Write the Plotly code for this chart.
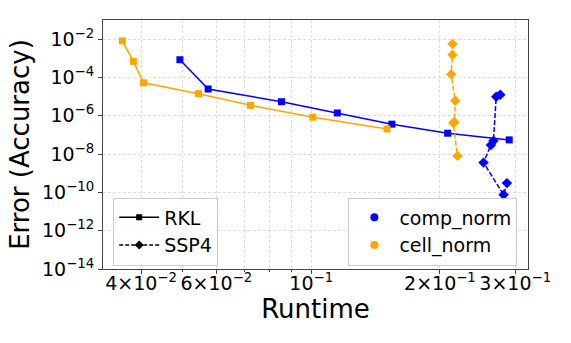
import plotly.graph_objects as go

# Runtime / error pairs
rkl_comp_runtime = [0.0493, 0.0574, 0.0852, 0.1151, 0.1544, 0.2085, 0.2904]
rkl_comp_error = [8.4e-4, 2.5e-5, 5.4e-6, 1.4e-6, 3.65e-7, 1.23e-7, 5.5e-8]

rkl_cell_runtime = [0.03616, 0.03838, 0.04054, 0.05449, 0.0721, 0.1009, 0.1504]
rkl_cell_error = [8.1e-3, 6.9e-4, 5.3e-5, 1.42e-5, 3.5e-6, 8.4e-7, 2.05e-7]

ssp4_comp_runtime = [0.2768, 0.2708, 0.2668, 0.2632, 0.2529, 0.2818, 0.2869]
ssp4_comp_error = [1.26e-5, 9.9e-6, 4.9e-8, 3.0e-8, 3.6e-9, 7.5e-11, 3.05e-10]

ssp4_cell_runtime = [0.2140, 0.2140, 0.2125, 0.2172, 0.2163, 0.2148, 0.2198]
ssp4_cell_error = [5.7e-3, 1.52e-3, 1.45e-4, 6.1e-6, 4.6e-7, 4.2e-7, 8.05e-9]

x_tick_vals = [0.04, 0.06, 0.1, 0.2, 0.3]
x_tick_text = ["4×10<sup>−2</sup>", "6×10<sup>−2</sup>", "10<sup>−1</sup>",
               "2×10<sup>−1</sup>", "3×10<sup>−1</sup>"]
x_minor_vals = [0.05, 0.07, 0.08, 0.09]
y_tick_vals = [1e-2, 1e-4, 1e-6, 1e-8, 1e-10, 1e-12, 1e-14]
y_tick_text = ["10<sup>−%d</sup>" % k for k in (2, 4, 6, 8, 10, 12, 14)]

BLUE = "#0000ff"
ORANGE = "#ffa500"
FONT = "DejaVu Sans"
GRID = "rgba(190,190,190,0.5)"

fig = go.Figure()


def add_series(x, y, color, symbol, dash, size):
    fig.add_trace(go.Scatter(
        x=x, y=y, mode="lines+markers",
        line=dict(color=color, width=1.5, dash=dash),
        marker=dict(symbol=symbol, size=size, color=color),
        showlegend=False,
    ))


add_series(rkl_comp_runtime, rkl_comp_error, BLUE, "square", "solid", 7)
add_series(rkl_cell_runtime, rkl_cell_error, ORANGE, "square", "solid", 7)
add_series(ssp4_comp_runtime, ssp4_comp_error, BLUE, "diamond", "5px,2px", 8)
add_series(ssp4_cell_runtime, ssp4_cell_error, ORANGE, "diamond", "5px,2px", 8)

# legend-only entries (method legend on the left, norm legend on the right)
fig.add_trace(go.Scatter(x=[None], y=[None], mode="lines+markers", name="RKL",
                         line=dict(color="black", width=1.5),
                         marker=dict(symbol="square", size=6, color="black"),
                         legend="legend"))
fig.add_trace(go.Scatter(x=[None], y=[None], mode="lines+markers", name="SSP4",
                         line=dict(color="black", width=1.5, dash="4px,2px"),
                         marker=dict(symbol="diamond", size=7, color="black"),
                         legend="legend"))
fig.add_trace(go.Scatter(x=[None], y=[None], mode="markers", name="comp_norm",
                         marker=dict(symbol="circle", size=8, color=BLUE),
                         legend="legend2"))
fig.add_trace(go.Scatter(x=[None], y=[None], mode="markers", name="cell_norm",
                         marker=dict(symbol="circle", size=8, color=ORANGE),
                         legend="legend2"))

legend_style = dict(
    bgcolor="rgba(255,255,255,0.8)", bordercolor="#cccccc", borderwidth=1,
    font=dict(family=FONT, size=19, color="black"), yanchor="bottom", y=0.014,
    itemwidth=40,
)

fig.update_layout(
    width=571, height=343,
    margin=dict(l=103, r=43, t=20, b=74),
    paper_bgcolor="white", plot_bgcolor="white",
    font=dict(family=FONT, color="black"),
    legend=dict(x=0.024, xanchor="left", **legend_style),
    legend2=dict(x=0.975, xanchor="right", **legend_style),
    xaxis=dict(
        type="log", range=[-1.487, -0.493], automargin=False,
        tickvals=x_tick_vals, ticktext=x_tick_text,
        tickfont=dict(size=19), ticks="outside", ticklen=4,
        ticklabelstandoff=-7,
        showgrid=True, gridcolor=GRID, griddash="3px,2px", gridwidth=1,
        minor=dict(tickvals=x_minor_vals, ticks="outside", ticklen=2,
                   showgrid=True, gridcolor=GRID, griddash="3px,2px"),
        showline=True, linecolor="#444444", linewidth=1, mirror=True,
        title=dict(text="Runtime", font=dict(size=26), standoff=0),
        zeroline=False,
    ),
    yaxis=dict(
        type="log", range=[-14, -1], automargin=False,
        tickvals=y_tick_vals, ticktext=y_tick_text,
        tickfont=dict(size=19), ticks="outside", ticklen=4,
        showgrid=True, gridcolor=GRID, griddash="3px,2px", gridwidth=1,
        showline=True, linecolor="#444444", linewidth=1, mirror=True,
        title=dict(text="Error (Accuracy)", font=dict(size=26), standoff=4),
        zeroline=False,
    ),
)

# the page body keeps the browser's default 8px margin otherwise
fig.write_html("out.html", config={"displayModeBar": False},
               post_script="document.body.style.margin = '0';")
